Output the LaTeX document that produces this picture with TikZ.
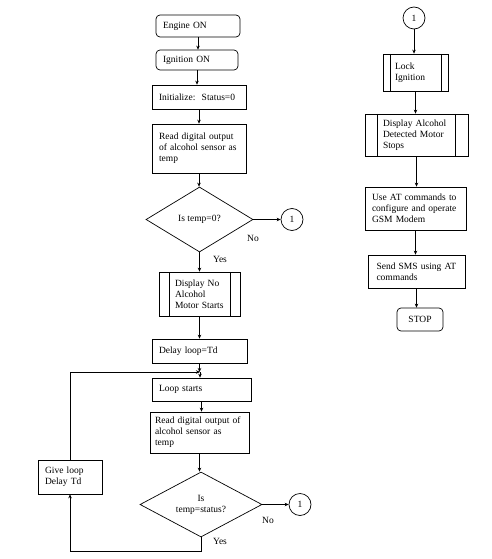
\documentclass[tikz,border=0pt]{standalone}
\usepackage{fontspec}
\setmainfont{Liberation Serif}
\usetikzlibrary{arrows.meta,shapes.geometric,calc}

\begin{document}
\begin{tikzpicture}[
    x=1pt, y=-1pt,
    font=\fontsize{9.5}{11}\selectfont,
    flow/.style={
      draw,
      line width=0.7pt,
      align=left,
      inner xsep=7pt,
      inner ysep=2pt
    },
    termbox/.style={flow, rounded corners=4pt},
    procbox/.style={flow},
    subbox/.style={
      flow,
      path picture={
        \draw[line width=0.7pt]
          ([xshift=#1]path picture bounding box.north west) -- ([xshift=#1]path picture bounding box.south west)
          ([xshift=-#1]path picture bounding box.north east) -- ([xshift=-#1]path picture bounding box.south east);
      }
    },
    decision/.style={
      draw, diamond, aspect=2,
      line width=0.7pt,
      inner sep=1pt,
      align=center
    },
    conn/.style={draw, circle, line width=0.7pt, minimum size=22pt, inner sep=0pt},
    lbl/.style={inner sep=1pt},
    arr/.style={line width=0.7pt, -{Stealth[length=4pt,width=3.5pt]}}
  ]
    \useasboundingbox (0,0) rectangle (492,559);

    % Left column: start and first check
    \node[termbox, text width=70pt, minimum height=22pt] (engine) at (198,26) {Engine ON};
    \node[termbox, text width=68pt, minimum height=20pt] (ignition) at (197,60) {Ignition ON};
    \node[procbox, text width=80pt, minimum height=24pt] (init) at (199,97) {Initialize:\ \ Status=0};
    \node[procbox, text width=80pt, minimum height=49pt] (read1) at (199,148.5) {Read digital output\\of alcohol sensor as\\temp};
    \node[decision, minimum width=107pt, minimum height=65pt] (dec1) at (199.5,219.5) {Is temp=0?};
    \node[conn] (c1a) at (292,219.5) {1};
    \node[lbl] (no1) at (253,238) {No};
    \node[lbl] (yes1) at (220,259) {Yes};
    \node[subbox=10pt, inner xsep=16pt, text width=49pt, minimum height=44pt] (disp1) at (199.5,294) {Display No\\Alcohol\\Motor Starts};
    \node[procbox, text width=81pt, minimum height=24pt] (delay) at (199.5,351) {Delay loop=Td};

    % Left column: monitoring loop
    \coordinate (join) at (200,372);
    \node[procbox, text width=85pt, minimum height=23pt] (loop) at (201.5,389.5) {Loop starts};
    \node[procbox, inner xsep=5pt, text width=89pt, minimum height=41pt] (read2) at (199.5,432.5) {Read digital output of\\alcohol sensor as\\temp};
    \node[decision, minimum width=122pt, minimum height=65pt] (dec2) at (201,504.5) {Is\\temp=status?};
    \node[conn] (c1b) at (300,504.5) {1};
    \node[lbl] (no2) at (268,520) {No};
    \node[lbl] (yes2) at (220,541) {Yes};
    \node[procbox, text width=50pt, minimum height=34pt] (give) at (70,477) {Give loop\\Delay Td};
    \coordinate (back) at (201,551);

    % Right column: alcohol detected
    \node[conn] (c1c) at (414,18) {1};
    \node[subbox=7pt, inner xsep=12pt, text width=41pt, minimum height=37pt] (lock) at (415.5,72.5) {Lock\\Ignition};
    \node[subbox=12.5pt, inner xsep=18pt, text width=67pt, minimum height=42pt] (disp2) at (416.5,135) {Display Alcohol\\Detected Motor\\Stops};
    \node[procbox, text width=87pt, minimum height=43pt] (gsm) at (415.5,208.5) {Use AT commands to\\configure and operate\\GSM Modem};
    \node[procbox, inner xsep=8.5pt, text width=80pt, minimum height=33pt] (send) at (416.5,271.5) {Send SMS using AT\\commands};
    \node[termbox, align=center, text width=32pt, minimum height=23pt] (stop) at (420,319.5) {STOP};

    % Connectors, left
    \draw[arr] (engine.south) -- (engine.south |- ignition.north);
    \draw[arr] (ignition.south) -- (ignition.south |- init.north);
    \draw[arr] (init.south) -- (init.south |- read1.north);
    \draw[arr] (read1.south) -- (read1.south |- dec1.north);
    \draw[arr] (dec1.east) -- (c1a.west);
    \draw[arr] (dec1.south) -- (dec1.south |- disp1.north);
    \draw[arr] (disp1.south) -- (disp1.south |- delay.north);
    \draw[arr] (delay.south) -- (delay.south |- join);
    \draw[arr] (join) -- (join |- loop.north);
    \draw[arr] (loop.south) -- (loop.south |- read2.north);
    \draw[arr] (read2.south) -- (read2.south |- dec2.north);
    \draw[arr] (dec2.east) -- (c1b.west);
    \draw[arr] (dec2.south) -- (back) -| (give.south);
    \draw[arr] (give.north) |- (join);

    % Connectors, right
    \draw[arr] (c1c.south) -- (c1c.south |- lock.north);
    \draw[arr] (lock.south) -- (lock.south |- disp2.north);
    \draw[arr] (disp2.south) -- (disp2.south |- gsm.north);
    \draw[arr] (gsm.south) -- (gsm.south |- send.north);
    \draw[arr] (send.south) -- (send.south |- stop.north);
  \end{tikzpicture}
\end{document}
